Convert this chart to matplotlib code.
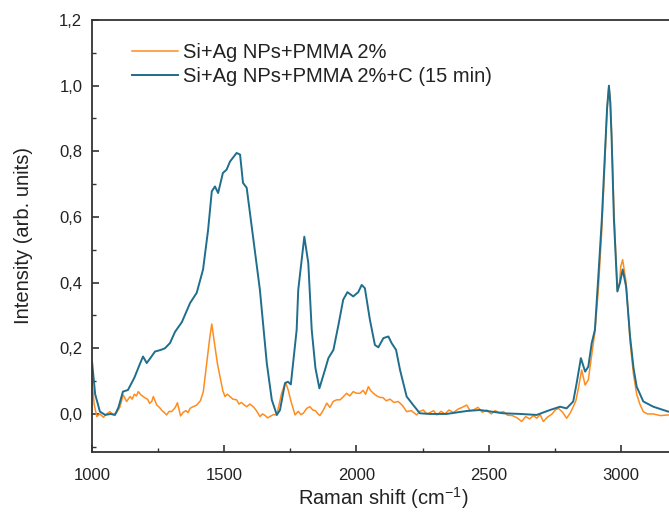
import matplotlib
matplotlib.use("Agg")
import matplotlib.pyplot as plt
from matplotlib.ticker import MultipleLocator, FuncFormatter

# ---- data ----
teal_x = [1000, 1012, 1030, 1050, 1070, 1087, 1100, 1117, 1136, 1160, 1180, 1193, 1207, 1225,
          1238, 1260, 1276, 1295, 1314, 1340, 1371, 1396, 1420, 1439, 1453, 1465, 1477, 1495,
          1509, 1522, 1547, 1560, 1571, 1585, 1609, 1635, 1661, 1680, 1699, 1711, 1730, 1741,
          1752, 1774, 1780, 1803, 1818, 1831, 1845, 1860, 1881, 1894, 1913, 1932, 1950, 1966,
          1988, 2007, 2020, 2032, 2051, 2070, 2083, 2102, 2121, 2133, 2150, 2165, 2190, 2215,
          2240, 2278, 2341, 2417, 2467, 2556, 2620, 2682, 2732, 2770, 2795, 2820, 2833, 2849,
          2865, 2877, 2890, 2902, 2915, 2928, 2940, 2948, 2955, 2960, 2965, 2974, 2987, 2997,
          3007, 3020, 3035, 3048, 3060, 3085, 3123, 3180, 3200]
teal_y = [0.16, 0.06, 0.007, -0.003, 0.0, -0.003, 0.02, 0.068, 0.073, 0.11, 0.15, 0.175, 0.155, 0.175,
          0.19, 0.195, 0.20, 0.216, 0.25, 0.28, 0.338, 0.369, 0.44, 0.56, 0.678, 0.693, 0.673, 0.734,
          0.744, 0.769, 0.795, 0.79, 0.704, 0.689, 0.54, 0.378, 0.155, 0.043, -0.003, 0.012, 0.094, 0.098,
          0.09, 0.256, 0.378, 0.54, 0.46, 0.256, 0.14, 0.078, 0.134, 0.17, 0.195, 0.271, 0.348, 0.371,
          0.358, 0.371, 0.393, 0.383, 0.287, 0.21, 0.203, 0.231, 0.236, 0.216, 0.195, 0.134, 0.053, 0.027,
          0.002, 0.0, 0.0, 0.009, 0.012, 0.002, 0.0, -0.003, 0.012, 0.022, 0.017, 0.038, 0.094, 0.17,
          0.129, 0.144, 0.216, 0.256, 0.42, 0.59, 0.795, 0.93, 1.0, 0.95, 0.845, 0.59, 0.373, 0.40,
          0.44, 0.388, 0.236, 0.14, 0.083, 0.038, 0.022, 0.007, 0.005]

orange_x = [1000, 1008, 1018, 1030, 1043, 1055, 1068, 1080, 1093, 1105, 1118, 1131, 1144, 1152, 1160,
            1168, 1175, 1185, 1194, 1202, 1210, 1218, 1226, 1232, 1245, 1255, 1265, 1274, 1282, 1292,
            1301, 1310, 1315, 1323, 1335, 1345, 1355, 1363, 1371, 1382, 1396, 1404, 1410, 1421,
            1434, 1445, 1453, 1465, 1475, 1484, 1495, 1503, 1512, 1522, 1533, 1547, 1556, 1565, 1575,
            1585, 1597, 1610, 1622, 1635, 1645, 1655, 1664, 1673, 1686,
            1699, 1717, 1732, 1742, 1752, 1768, 1780, 1790, 1799, 1812, 1824, 1835, 1845, 1855, 1862,
            1875, 1888, 1900, 1912, 1925, 1938, 1950, 1963, 1975, 1988, 2001, 2014, 2025, 2035, 2045,
            2055, 2066, 2077, 2090, 2100, 2113, 2127, 2142, 2158, 2175, 2190, 2208, 2228, 2240, 2253,
            2266, 2280, 2292, 2304, 2320, 2335, 2350, 2367, 2385, 2400,
            2417, 2430, 2442, 2460, 2476, 2493, 2510, 2525, 2540, 2556, 2572, 2590, 2608, 2625, 2640,
            2655, 2670, 2682, 2695, 2707, 2722, 2740, 2752, 2764, 2780, 2795, 2808, 2820, 2830, 2840, 2852,
            2865, 2877, 2890, 2902, 2915, 2928, 2940, 2948, 2955, 2960, 2965, 2974, 2987, 2995, 3000, 3007, 3020,
            3035, 3048, 3060, 3072, 3085, 3100, 3123, 3150, 3180, 3200]
orange_y = [0.104, 0.03, -0.008, 0.0, -0.01, 0.0, 0.007, -0.002, 0.004, 0.02, 0.058, 0.038, 0.053, 0.045, 0.06,
            0.055, 0.068, 0.058, 0.053, 0.048, 0.045, 0.032, 0.038, 0.053, 0.027, 0.02, 0.01, 0.004, -0.003, 0.008,
            0.007, 0.015, 0.02, 0.034, -0.006, 0.005, 0.01, 0.004, 0.017, 0.022, 0.027, 0.035, 0.04, 0.068,
            0.155, 0.23, 0.274, 0.205, 0.15, 0.114, 0.07, 0.053, 0.06, 0.053, 0.045, 0.043, 0.03, 0.035, 0.028,
            0.022, 0.03, 0.022, 0.01, -0.008, 0.0, -0.005, -0.012, -0.008, -0.002,
            -0.003, 0.063, 0.096, 0.073, 0.04, -0.003, 0.008, -0.002, 0.002, 0.017, 0.022, 0.012, 0.01, 0.0, -0.005,
            0.012, 0.033, 0.02, 0.038, 0.043, 0.043, 0.052, 0.063, 0.055, 0.068, 0.063, 0.063, 0.072, 0.06, 0.083,
            0.07, 0.062, 0.055, 0.05, 0.05, 0.04, 0.045, 0.035, 0.038, 0.025, 0.007, 0.01, -0.003, 0.008, 0.012,
            0.0, 0.005, 0.01, -0.003, 0.008, 0.0, 0.012, 0.004, 0.015, 0.02,
            0.027, 0.01, 0.012, 0.02, 0.005, 0.012, 0.0, 0.01, 0.004, 0.007, -0.004, -0.005, -0.012, -0.023, -0.008,
            -0.015, -0.005, -0.013, -0.002, -0.023, -0.01, 0.0, 0.012, 0.017, 0.005, -0.013, 0.002, 0.022, 0.04, 0.08, 0.134,
            0.088, 0.104, 0.18, 0.25, 0.38, 0.56, 0.775, 0.93, 1.0, 0.96, 0.86, 0.62, 0.375, 0.40, 0.45, 0.47, 0.40,
            0.22, 0.12, 0.06, 0.03, 0.007, 0.0, 0.0, -0.005, -0.003, -0.003]

labels = ["Si+Ag NPs+PMMA 2%", "Si+Ag NPs+PMMA 2%+C (15 min)"]
xticks_major = [1000, 1500, 2000, 2500, 3000]

ORANGE = "#FF8C1F"
TEAL = "#1E6E8C"
TXT = "#222222"

plt.rcParams['font.family'] = ['Liberation Sans', 'DejaVu Sans']
plt.rcParams['mathtext.fontset'] = 'custom'
plt.rcParams['mathtext.rm'] = 'Liberation Sans'
plt.rcParams['mathtext.default'] = 'regular'

W, H = 669, 517
fig = plt.figure(figsize=(W / 100, H / 100), dpi=100)
ax = fig.add_axes([92 / W, (H - 451.7) / H, (673.7 - 92) / W, (451.7 - 20) / H])

ax.plot(orange_x, orange_y, color=ORANGE, lw=1.1, label=labels[0])
ax.plot(teal_x, teal_y, color=TEAL, lw=1.4, label=labels[1])

ax.set_xlim(1000, 3200)
ax.set_ylim(-0.115, 1.2)
ax.set_xticks(xticks_major)
ax.xaxis.set_minor_locator(MultipleLocator(250))
ax.yaxis.set_major_locator(MultipleLocator(0.2))
ax.yaxis.set_minor_locator(MultipleLocator(0.1))
ax.yaxis.set_major_formatter(FuncFormatter(lambda v, p: f"{v:.1f}".replace(".", ",").replace("-0,0", "0,0")))

for s in ax.spines.values():
    s.set_linewidth(1.3)
    s.set_color("#333333")
ax.tick_params(which='both', direction='in', colors="#333333", labelcolor=TXT, labelsize=12)
ax.tick_params(which='major', length=5, width=1.2)
ax.tick_params(which='minor', length=3, width=1.0)
ax.tick_params(axis='x', which='major', pad=12)
ax.tick_params(axis='y', which='major', pad=7)

ax.set_xlabel("Raman shift (cm$^{-1}$)", fontsize=14.5, color=TXT, labelpad=1)
ax.set_ylabel("Intensity (arb. units)", fontsize=14.5, color=TXT, labelpad=19)

leg = ax.legend(loc='upper left', bbox_to_anchor=(131.7 / W, 1 - 43 / H),
                bbox_transform=fig.transFigure, frameon=False, fontsize=14.5,
                handlelength=2.3, handletextpad=0.25, labelspacing=0.25,
                borderpad=0, borderaxespad=0)
for t in leg.get_texts():
    t.set_color(TXT)

fig.savefig("out.png", dpi=100)
